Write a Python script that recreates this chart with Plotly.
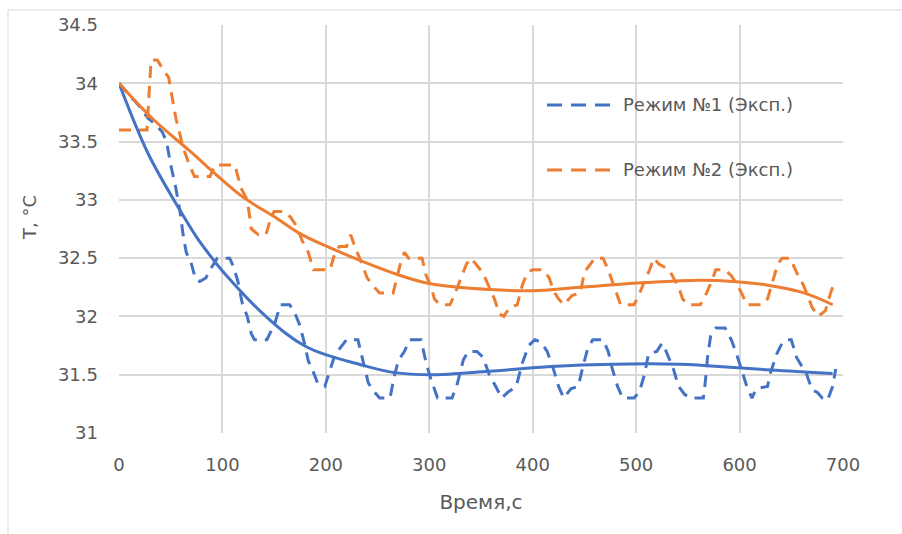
import plotly.graph_objects as go

# ---- data ----
blue_exp_t = [0, 10, 20, 28, 35, 42, 46, 50, 55, 59, 62, 65, 70, 74, 78, 84, 88, 95, 107, 111, 115, 119, 124, 128, 131, 143, 147, 151, 156, 165, 170, 175, 179, 183, 188, 192, 199, 204, 208, 213, 220, 231, 236, 241, 246, 252, 262, 266, 270, 276, 281, 292, 297, 302, 308, 322, 327, 333, 338, 346, 352, 358, 363, 370, 376, 384, 390, 396, 402, 408, 414, 420, 425, 430, 437, 444, 448, 453, 458, 468, 473, 477, 482, 487, 498, 503, 508, 512, 520, 525, 529, 536, 541, 547, 553, 565, 567, 569, 572, 577, 586, 592, 597, 603, 607, 612, 616, 627, 630, 636, 641, 645, 650, 655, 660, 665, 670, 675, 680, 685, 690, 693]
blue_exp_T = [34.0, 33.9, 33.8, 33.7, 33.65, 33.58, 33.5, 33.3, 33.1, 32.9, 32.7, 32.55, 32.45, 32.32, 32.3, 32.33, 32.4, 32.5, 32.5, 32.42, 32.3, 32.12, 32.0, 31.85, 31.8, 31.8, 31.88, 31.95, 32.1, 32.1, 32.03, 31.92, 31.78, 31.62, 31.52, 31.43, 31.4, 31.55, 31.65, 31.72, 31.8, 31.8, 31.62, 31.43, 31.36, 31.3, 31.3, 31.48, 31.62, 31.7, 31.8, 31.8, 31.6, 31.45, 31.3, 31.3, 31.42, 31.63, 31.7, 31.7, 31.65, 31.5, 31.42, 31.3, 31.35, 31.4, 31.6, 31.75, 31.8, 31.78, 31.7, 31.55, 31.4, 31.3, 31.38, 31.4, 31.55, 31.72, 31.8, 31.8, 31.7, 31.55, 31.4, 31.3, 31.3, 31.35, 31.5, 31.68, 31.7, 31.77, 31.7, 31.55, 31.4, 31.33, 31.3, 31.3, 31.45, 31.65, 31.83, 31.9, 31.9, 31.8, 31.68, 31.52, 31.4, 31.3, 31.38, 31.4, 31.52, 31.68, 31.77, 31.8, 31.8, 31.65, 31.57, 31.5, 31.37, 31.35, 31.3, 31.28, 31.4, 31.55]

orange_exp_t = [0, 27, 31, 37, 44, 48, 55, 62, 68, 73, 88, 93, 112, 118, 124, 128, 135, 142, 147, 150, 160, 166, 172, 177, 183, 188, 204, 209, 213, 220, 224, 228, 234, 240, 245, 252, 265, 269, 272, 276, 280, 293, 297, 302, 305, 310, 320, 325, 330, 336, 340, 345, 352, 358, 363, 368, 372, 378, 385, 390, 395, 400, 410, 416, 420, 425, 430, 438, 446, 450, 456, 460, 468, 473, 477, 481, 485, 498, 502, 508, 513, 517, 522, 532, 537, 541, 545, 550, 562, 568, 573, 577, 586, 592, 597, 602, 607, 622, 627, 632, 637, 641, 649, 655, 660, 665, 670, 676, 683, 688, 692]
orange_exp_T = [33.6, 33.6, 34.2, 34.2, 34.1, 34.05, 33.7, 33.45, 33.3, 33.2, 33.2, 33.3, 33.3, 33.1, 33.0, 32.75, 32.7, 32.7, 32.85, 32.9, 32.9, 32.85, 32.77, 32.65, 32.55, 32.4, 32.4, 32.55, 32.6, 32.6, 32.7, 32.6, 32.47, 32.33, 32.27, 32.2, 32.2, 32.35, 32.45, 32.55, 32.5, 32.5, 32.35, 32.25, 32.15, 32.1, 32.1, 32.2, 32.32, 32.45, 32.5, 32.45, 32.37, 32.25, 32.15, 32.02, 32.0, 32.08, 32.1, 32.27, 32.38, 32.4, 32.4, 32.33, 32.22, 32.15, 32.1, 32.18, 32.2, 32.38, 32.45, 32.5, 32.5, 32.4, 32.3, 32.2, 32.1, 32.1, 32.17, 32.3, 32.4, 32.5, 32.45, 32.4, 32.32, 32.25, 32.15, 32.1, 32.1, 32.2, 32.3, 32.4, 32.4, 32.35, 32.28, 32.2, 32.1, 32.1, 32.15, 32.3, 32.45, 32.5, 32.5, 32.38, 32.3, 32.2, 32.08, 32.0, 32.05, 32.2, 32.3]

blue_trend_t = [0, 28, 59, 75, 90, 100, 142, 181, 236, 265, 303, 358, 418, 478, 542, 565, 630, 690]
blue_trend_T = [34.0, 33.4, 32.91, 32.68, 32.5, 32.39, 32.0, 31.74, 31.58, 31.52, 31.50, 31.53, 31.57, 31.59, 31.59, 31.58, 31.54, 31.51]

orange_trend_t = [0, 32, 67, 119, 151, 175, 201, 236, 269, 301, 359, 400, 446, 510, 562, 594, 626, 663, 690]
orange_trend_T = [34.0, 33.70, 33.43, 33.03, 32.85, 32.71, 32.60, 32.47, 32.36, 32.28, 32.23, 32.22, 32.25, 32.29, 32.31, 32.30, 32.27, 32.2, 32.1]

series_names = ["Режим №1 (Эксп.)", "Режим №2 (Эксп.)"]
x_title = "Время,с"
y_title = "T, °C"

BLUE = "#4472C4"
ORANGE = "#ED7D31"
GRID = "#D9D9D9"
TXT = "#595959"
FONT = "DejaVu Sans"
FS = 18
FT = 20

fig = go.Figure()
fig.add_trace(go.Scatter(x=blue_exp_t, y=blue_exp_T, mode="lines",
                         line=dict(color=BLUE, width=3, dash="12px,8px"),
                         name=series_names[0], showlegend=False))
fig.add_trace(go.Scatter(x=orange_exp_t, y=orange_exp_T, mode="lines",
                         line=dict(color=ORANGE, width=3, dash="12px,8px"),
                         name=series_names[1], showlegend=False))
fig.add_trace(go.Scatter(x=blue_trend_t, y=blue_trend_T, mode="lines",
                         line=dict(color=BLUE, width=3, shape="spline", smoothing=1.0),
                         showlegend=False, hoverinfo="skip"))
fig.add_trace(go.Scatter(x=orange_trend_t, y=orange_trend_T, mode="lines",
                         line=dict(color=ORANGE, width=3, shape="spline", smoothing=1.0),
                         showlegend=False, hoverinfo="skip"))

L, R, T, B = 119, 59, 25, 101
W, H = 902, 534
pw, ph = W - L - R, H - T - B

def px_x(p):
    return (p - L) / pw

def px_y(p):
    return (H - B - p) / ph

shapes = []
annotations = []
# outer chart frame (partially cropped in the reference)
shapes.append(dict(type="rect", xref="paper", yref="paper",
                   x0=px_x(8), x1=px_x(1000), y0=px_y(600), y1=px_y(10),
                   line=dict(color=GRID, width=1), fillcolor="rgba(0,0,0,0)", layer="below"))
# custom legend
for i, (col, yy) in enumerate([(BLUE, 105), (ORANGE, 170)]):
    shapes.append(dict(type="line", xref="paper", yref="paper",
                       x0=px_x(547), x1=px_x(617), y0=px_y(yy), y1=px_y(yy),
                       line=dict(color=col, width=3, dash="15px,9px")))
    annotations.append(dict(xref="paper", yref="paper", x=px_x(621), y=px_y(yy),
                            text=series_names[i], showarrow=False, xanchor="left",
                            yanchor="middle", font=dict(family=FONT, size=FS, color=TXT)))
# y axis title
annotations.append(dict(xref="paper", yref="paper", x=px_x(29), y=px_y(218),
                        text=y_title, showarrow=False, textangle=-90,
                        xanchor="center", yanchor="middle",
                        font=dict(family=FONT, size=FS, color=TXT)))

fig.update_layout(
    width=W, height=H,
    margin=dict(l=L, r=R, t=T, b=B),
    paper_bgcolor="white", plot_bgcolor="white",
    font=dict(family=FONT, size=FS, color=TXT),
    shapes=shapes, annotations=annotations,
    xaxis=dict(range=[0, 700], dtick=100, tick0=0, showgrid=True, gridcolor=GRID,
               gridwidth=1.5, zeroline=False, showline=False, ticks="",
               ticklabelstandoff=19, tickfont=dict(family=FONT, size=FS, color=TXT),
               title=dict(text=x_title, standoff=20, font=dict(family=FONT, size=FT, color=TXT))),
    yaxis=dict(range=[31, 34.5], dtick=0.5, tick0=31, showgrid=True, gridcolor=GRID,
               gridwidth=1.5, zeroline=False, showline=False, ticks="",
               ticklabelstandoff=20, tickfont=dict(family=FONT, size=FS, color=TXT)),
    showlegend=False,
)

fig.write_html("out.html")
